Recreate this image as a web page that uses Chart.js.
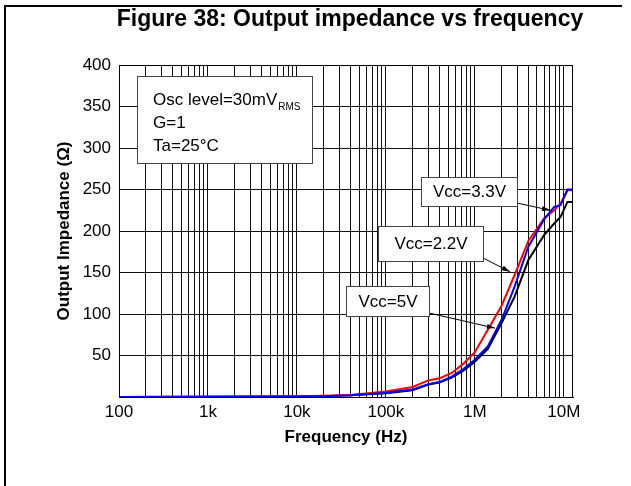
<!DOCTYPE html>
<html>
<head>
<meta charset="utf-8">
<script src="https://cdn.jsdelivr.net/npm/chart.js@4.4.0/dist/chart.umd.min.js"></script>
<style>
  html, body { margin: 0; padding: 0; background: #fff; }
  canvas { display: block; }
</style>
</head>
<body>
<canvas id="myChart" width="631" height="486"></canvas>
<script>
// sweep frequencies (Hz)
var freqHz = [100, 1e3, 1e4, 2e4, 4e4, 1e5, 2e5, 3e5, 4e5, 5.5e5, 7.5e5, 1e6, 1.4e6, 2e6, 2.8e6, 4e6, 6e6, 7.8e6, 9.2e6, 1.1e7, 1.3e7];
// output impedance (ohm) for each supply
var zVcc22 = [0, 0.2, 0.8, 1.5, 2.5, 6.5, 12, 20, 22.5, 29, 40.5, 54, 81, 110, 147, 188, 215, 225, 233, 249, 249];
var zVcc33 = [0, 0.2, 0.6, 1, 2, 5, 9, 15.5, 18, 24.5, 34, 45, 61, 93, 133, 181, 214, 229, 231, 250, 250];
var zVcc50 = [0, 0.2, 0.6, 1, 2, 4.5, 8, 15, 17.5, 23.5, 32, 42.5, 58, 89, 121, 165, 195, 209, 217, 235, 235];

var decadeValues = [100, 1e3, 1e4, 1e5, 1e6, 1e7];
var decadeLabels = ['100', '1k', '10k', '100k', '1M', '10M'];
var yLabelStep = 50;

var figTitle = 'Figure 38: Output impedance vs frequency';
var infoLines = ['Osc level=30mV', 'G=1', 'Ta=25\u00B0C'];

// callout boxes, placed in data units, arrow tip on the curve
var callouts = [
  { text: 'Vcc=3.3V', boxF: 8.5e5, boxZ: 247, w: 96, h: 29, tipF: 7.0e6, tipZ: 225 },
  { text: 'Vcc=2.2V', boxF: 3.2e5, boxZ: 185, w: 105, h: 35, tipF: 2.48e6, tipZ: 151 },
  { text: 'Vcc=5V', boxF: 1.04e5, boxZ: 116, w: 83, h: 30, tipF: 1.68e6, tipZ: 83 }
];

var FONT = "'Liberation Sans', Arial, sans-serif";
Chart.defaults.font.family = FONT;
Chart.defaults.color = '#000';

function pts(vals) {
  return freqHz.map(function (f, i) { return { x: f, y: vals[i] }; });
}

var sheet = {
  id: 'sheet',
  beforeDraw: function (chart) {
    var c = chart.ctx;
    c.save();
    c.fillStyle = '#fff';
    c.fillRect(0, 0, chart.width, chart.height);
    c.fillStyle = '#000';
    c.fillRect(4, 5, 618, 2);
    c.fillRect(4, 5, 2, chart.height - 5);
    c.restore();
  },
  afterDatasetsDraw: function (chart) {
    var c = chart.ctx, a = chart.chartArea;
    var sx = chart.scales.x, sy = chart.scales.y;
    c.save();
    // plot frame
    c.strokeStyle = '#000';
    c.lineWidth = 1;
    c.strokeRect(a.left + 0.5, a.top + 0.5, a.right - a.left - 1, a.bottom - a.top);

    // test conditions panel
    var bx = a.left + 18, by = a.top + 11;
    c.fillStyle = '#fff';
    c.fillRect(bx, by, 175, 87);
    c.strokeStyle = '#444';
    c.strokeRect(bx + 0.5, by + 0.5, 175, 87);
    c.fillStyle = '#000';
    c.textAlign = 'left';
    c.textBaseline = 'alphabetic';
    c.font = '17px ' + FONT;
    var tx = bx + 16;
    c.fillText(infoLines[0], tx, by + 29);
    var w0 = c.measureText(infoLines[0]).width;
    c.fillText(infoLines[1], tx, by + 52);
    c.fillText(infoLines[2], tx, by + 75);
    c.font = '10px ' + FONT;
    c.fillText('RMS', tx + w0 + 1, by + 34);

    // callouts with arrows
    c.font = '17px ' + FONT;
    callouts.forEach(function (k) {
      var cx = sx.getPixelForValue(k.boxF), cy = sy.getPixelForValue(k.boxZ);
      var l = Math.round(cx - k.w / 2), t = Math.round(cy - k.h / 2);
      var r = l + k.w, b = t + k.h;
      var px = sx.getPixelForValue(k.tipF), py = sy.getPixelForValue(k.tipZ);
      var qx = r, qy = b - 3;
      c.strokeStyle = '#000';
      c.lineWidth = 1;
      c.beginPath();
      c.moveTo(qx, qy);
      c.lineTo(px, py);
      c.stroke();
      var ang = Math.atan2(py - qy, px - qx);
      c.fillStyle = '#000';
      c.beginPath();
      c.moveTo(px, py);
      c.lineTo(px - 8 * Math.cos(ang) + 2.5 * Math.sin(ang), py - 8 * Math.sin(ang) - 2.5 * Math.cos(ang));
      c.lineTo(px - 8 * Math.cos(ang) - 2.5 * Math.sin(ang), py - 8 * Math.sin(ang) + 2.5 * Math.cos(ang));
      c.closePath();
      c.fill();
      c.fillStyle = '#fff';
      c.fillRect(l, t, k.w, k.h);
      c.strokeStyle = '#444';
      c.strokeRect(l + 0.5, t + 0.5, k.w, k.h);
      c.fillStyle = '#000';
      c.textAlign = 'center';
      c.textBaseline = 'middle';
      c.fillText(k.text, l + k.w / 2 + 0.5, t + k.h / 2 + 1);
    });
    c.restore();
  },
  afterDraw: function (chart) {
    var c = chart.ctx, a = chart.chartArea;
    c.save();
    c.fillStyle = '#000';
    c.font = 'bold 23px ' + FONT;
    c.textAlign = 'center';
    c.textBaseline = 'middle';
    c.fillText(figTitle, (a.left + a.right) / 2 + 4, 20);
    c.restore();
  }
};

var ctx = document.getElementById('myChart').getContext('2d');
var chart = new Chart(ctx, {
  type: 'line',
  data: {
    datasets: [
      { label: 'Vcc=3.3V', data: pts(zVcc33), borderColor: '#0000ff', order: 0 },
      { label: 'Vcc=2.2V', data: pts(zVcc22), borderColor: '#ff0000', order: 1 },
      { label: 'Vcc=5V', data: pts(zVcc50), borderColor: '#000000', order: 2 }
    ]
  },
  options: {
    responsive: false,
    animation: false,
    layout: { padding: { top: 65, right: 58, left: 0, bottom: 0 } },
    elements: {
      point: { radius: 0 },
      line: { borderWidth: 2, tension: 0, fill: false }
    },
    plugins: {
      legend: { display: false },
      title: { display: false },
      tooltip: { enabled: false }
    },
    scales: {
      x: {
        type: 'logarithmic',
        min: 100,
        max: 1.27e7,
        afterBuildTicks: function (axis) {
          var t = [];
          decadeValues.forEach(function (d) {
            for (var m = 1; m <= 9; m++) {
              if (d * m <= axis.max) t.push({ value: d * m });
            }
          });
          axis.ticks = t;
        },
        afterFit: function (axis) { axis.height = 89; },
        grid: { color: '#111', lineWidth: 1, drawTicks: false },
        border: { color: '#000', width: 1 },
        ticks: {
          autoSkip: false,
          maxRotation: 0,
          padding: 5,
          font: { size: 17 },
          callback: function (v) {
            var i = decadeValues.indexOf(v);
            return i >= 0 ? decadeLabels[i] : '';
          }
        },
        title: {
          display: true,
          text: 'Frequency (Hz)',
          font: { size: 17, weight: 'bold' },
          padding: { top: 0, bottom: 38 }
        }
      },
      y: {
        min: 0,
        max: 400,
        afterFit: function (axis) { axis.width = 119; },
        grid: { color: '#111', lineWidth: 1, drawTicks: false },
        border: { color: '#000', width: 1 },
        ticks: {
          stepSize: 25,
          padding: 8,
          font: { size: 17 },
          callback: function (v) {
            return (v > 0 && v % yLabelStep === 0) ? v : '';
          }
        },
        title: {
          display: true,
          text: 'Output Impedance (\u03A9)',
          font: { size: 17, weight: 'bold' },
          padding: { top: 54, bottom: 0 }
        }
      }
    }
  },
  plugins: [sheet]
});
</script>
</body>
</html>
